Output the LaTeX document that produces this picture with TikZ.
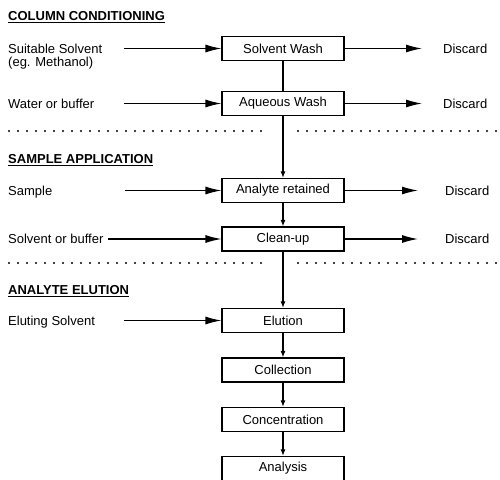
\documentclass[tikz,border=0pt]{standalone}
\usepackage{fontspec}
\setmainfont{Liberation Sans}
\usetikzlibrary{arrows.meta}
\tikzset{
  stage/.style={draw, line width=1.2pt, minimum width=122pt, minimum height=24pt, inner sep=0pt, font=\fontsize{13}{15}\selectfont},
  lbl/.style={anchor=base west, inner sep=0pt, font=\fontsize{13}{13}\selectfont},
  head/.style={anchor=west, inner sep=0pt, font=\fontsize{13}{15}\selectfont\bfseries},
  harrow/.style={line width=1.2pt, -{Latex[length=16pt,width=8pt]}},
  varrow/.style={line width=1.2pt, -{Latex[length=6.5pt,width=5pt]}},
  plainline/.style={line width=1.2pt},
  dotline/.style={line width=2.4pt, line cap=round, dash pattern=on 0pt off 9pt},
}
\begin{document}
\begin{tikzpicture}[x=1pt,y=-1pt]
\useasboundingbox (0,0) rectangle (500,479);
\clip (0,0) rectangle (500,479);
% headings
\node[head] (h1) at (8,17) {\underline{COLUMN CONDITIONING}};
\node[head] (h2) at (8,160) {\underline{SAMPLE APPLICATION}};
\node[head] (h3) at (8,291) {\underline{ANALYTE ELUTION}};
% boxes
\node[stage] (sw) at (283,48.5) {Solvent Wash};
\node[stage] (aw) at (283,103.5) {Aqueous Wash};
\node[stage] (ar) at (283,190.5) {Analyte retained};
\node[stage] (cu) at (283,239) {Clean-up};
\node[stage] (el) at (283,320.5) {Elution};
\node[stage] (co) at (283,370) {Collection};
\node[stage] (cn) at (283,419.5) {Concentration};
\node[stage] (an) at (283,468.5) {Analysis};
% left labels
\node[lbl] (l1) at (8,53.5) {Suitable Solvent};
\node[lbl] (l1b) at (8,66) {(eg. Methanol)};
\node[lbl] (l2) at (8,108) {Water or buffer};
\node[lbl] (l3) at (8,195) {Sample};
\node[lbl] (l4) at (8,243.5) {Solvent or buffer};
\node[lbl] (l5) at (8,325) {Eluting Solvent};
% discard labels
\node[lbl] (d1) at (443,53) {Discard};
\node[lbl] (d2) at (443,108) {Discard};
\node[lbl] (d3) at (445,195) {Discard};
\node[lbl] (d4) at (445,243.5) {Discard};
% arrow start/end coordinates
\coordinate (s1) at (124,48.5);
\coordinate (s2) at (124,103.5);
\coordinate (s3) at (125,190.5);
\coordinate (s4) at (108,239);
\coordinate (s5) at (124,320.5);
\coordinate (e1) at (422,48.5);
\coordinate (e2) at (422,103.5);
\coordinate (e3) at (418,190.5);
\coordinate (e4) at (418,239);
% input arrows
\draw[harrow] (s1) -- (sw.west);
\draw[harrow] (s2) -- (aw.west);
\draw[harrow] (s3) -- (ar.west);
\draw[harrow] (s4) -- (cu.west);
\draw[harrow] (s5) -- (el.west);
% discard arrows
\draw[harrow] (sw.east) -- (e1);
\draw[harrow] (aw.east) -- (e2);
\draw[harrow] (ar.east) -- (e3);
\draw[harrow] (cu.east) -- (e4);
% vertical flow
\draw[plainline] (sw.south) -- (aw.north);
\draw[varrow] (aw.south) -- (ar.north);
\draw[varrow] (ar.south) -- (cu.north);
\draw[varrow] (cu.south) -- (el.north);
\draw[varrow] (el.south) -- (co.north);
\draw[varrow] (co.south) -- (cn.north);
\draw[varrow] (cn.south) -- (an.north);
% dotted separators
\draw[dotline] (9,131) -- (268,131);
\draw[dotline] (298,131) -- (500,131);
\draw[dotline] (9,263) -- (268,263);
\draw[dotline] (298,263) -- (500,263);
\end{tikzpicture}
\end{document}
